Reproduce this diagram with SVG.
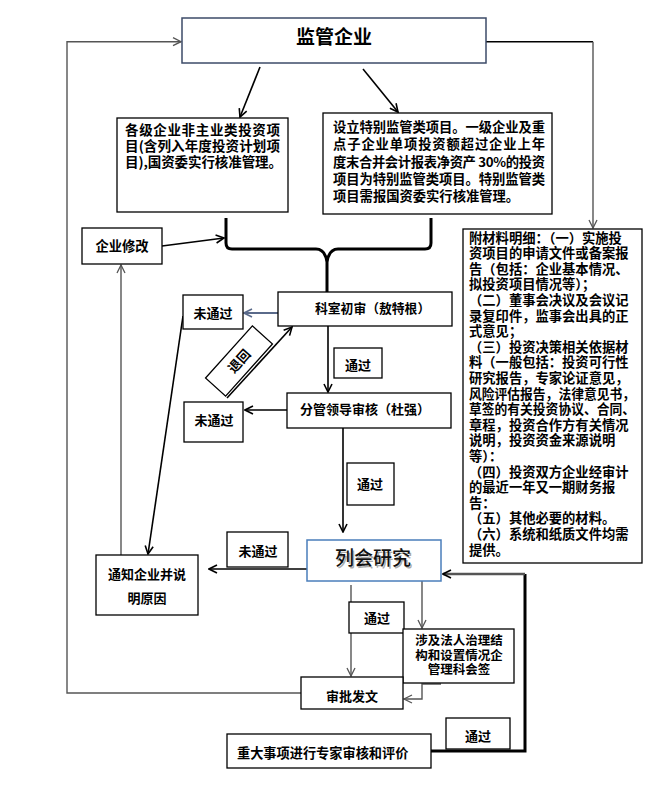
<svg xmlns="http://www.w3.org/2000/svg" width="657" height="801" viewBox="0 0 657 801">
<defs>
<style>
.box{fill:#fff;stroke:#000;stroke-width:1.3}
.t{font-family:"Noto Sans CJK SC","Noto Sans CJK TC",sans-serif;font-weight:bold;fill:#000}
.c{text-anchor:middle}
.ln{fill:none;stroke:#000;stroke-width:1.6}
.gr{fill:none;stroke:#555;stroke-width:1.4}
</style>
<marker id="ak" viewBox="0 0 10 10" refX="9" refY="5" markerWidth="10" markerHeight="10" markerUnits="userSpaceOnUse" orient="auto"><path d="M1,1 L9,5 L1,9" fill="none" stroke="#000" stroke-width="1.6"/></marker>
<marker id="ag" viewBox="0 0 10 10" refX="9" refY="5" markerWidth="10" markerHeight="10" markerUnits="userSpaceOnUse" orient="auto"><path d="M1,1 L9,5 L1,9" fill="none" stroke="#555" stroke-width="1.3"/></marker>
<marker id="ab" viewBox="0 0 10 10" refX="9" refY="5" markerWidth="10" markerHeight="10" markerUnits="userSpaceOnUse" orient="auto"><path d="M1,1 L9,5 L1,9" fill="none" stroke="#5a6a8a" stroke-width="1.6"/></marker>
</defs>
<rect width="657" height="801" fill="#fff"/>
<g id="connectors">
<path class="gr" d="M301,693 L67,693 L67,41.7 L181,41.7" stroke="#333" marker-end="url(#ag)"/>
<path class="ln" d="M486,41.7 L593,41.7" stroke-width="1.3"/>
<path class="gr" d="M593,41.7 L593,228" marker-end="url(#ag)"/>
<path class="ln" d="M260,67 L240,117" marker-end="url(#ak)"/>
<path class="ln" d="M363,69 L398,112" marker-end="url(#ak)"/>
<path d="M226,218 L226,243 Q226,249 232,249 L316,249 Q325,249 327,262 Q329,249 338,249 L425,249 Q431,249 431,243 L431,218 M327,258 L327,292" fill="none" stroke="#000" stroke-width="3"/>
<path class="ln" d="M162,246 L224,238" marker-end="url(#ak)"/>
<path d="M278,313 L244,313" fill="none" stroke="#5a6a8a" stroke-width="2" marker-end="url(#ab)"/>
<path class="ln" d="M328,326 L328,392" stroke-width="2" marker-end="url(#ak)"/>
<path class="ln" d="M287,410 L245,410" stroke-width="2" marker-end="url(#ak)"/>
<path class="ln" d="M227,398 L292,327" stroke-width="2" marker-end="url(#ak)"/>
<path class="ln" d="M183,316 L148,554" stroke-width="2" marker-end="url(#ak)"/>
<path class="gr" d="M121,555 L121,265" marker-end="url(#ag)"/>
<path class="ln" d="M343,428 L343,532" stroke-width="2" marker-end="url(#ak)"/>
<path class="ln" d="M307,569 L209,569" stroke-width="2.5" marker-end="url(#ak)"/>
<path class="gr" d="M351,585 L351,676" stroke-width="1.2" marker-end="url(#ag)"/>
<path class="gr" d="M422,579 L422,628" stroke-width="1.1" marker-end="url(#ag)"/>
<path class="gr" d="M441,684 L422,684 L422,699 L404,699" stroke-width="1.1" marker-end="url(#ag)"/>
<path d="M431,751 L525,751 L525,574" fill="none" stroke="#000" stroke-width="3"/>
<path d="M525,574 L443,574" fill="none" stroke="#555" stroke-width="2.5" marker-end="url(#ak)"/>
</g>
<g id="n-jianguan"><rect x="182" y="18" width="304" height="45" fill="#fff" stroke="#3d4b68" stroke-width="1.5"/><text x="334" y="44" class="t c" style="font-size:19px">监管企业</text></g>
<g id="n-left"><rect class="box" x="117" y="118" width="171" height="94"/>
<text class="t" x="125" y="135" style="font-size:13.5px" textLength="155" lengthAdjust="spacing">各级企业非主业类投资项</text>
<text class="t" x="125" y="151" style="font-size:13.5px" textLength="155" lengthAdjust="spacing">目(含列入年度投资计划项</text>
<text class="t" x="125" y="167" style="font-size:13.5px" textLength="157" lengthAdjust="spacing">目),国资委实行核准管理。</text></g>
<g id="n-right"><rect class="box" x="323" y="113" width="229" height="101"/>
<text class="t" x="333" y="131.5" style="font-size:13.3px" textLength="212" lengthAdjust="spacing">设立特别监管类项目。一级企业及重</text>
<text class="t" x="333" y="149" style="font-size:13.3px" textLength="212" lengthAdjust="spacing">点子企业单项投资额超过企业上年</text>
<text class="t" x="333" y="166.5" style="font-size:13.3px" textLength="212" lengthAdjust="spacing">度末合并会计报表净资产 30%的投资</text>
<text class="t" x="333" y="184" style="font-size:13.3px" textLength="212" lengthAdjust="spacing">项目为特别监管类项目。特别监管类</text>
<text class="t" x="333" y="200.5" style="font-size:13.3px">项目需报国资委实行核准管理。</text></g>
<g id="n-fucailiao"><rect class="box" x="463" y="229" width="179" height="334"/>
<text class="t" style="font-size:13.3px">
<tspan x="469" y="242.5">附材料明细：（一）实施投</tspan>
<tspan x="469" y="258.1">资项目的申请文件或备案报</tspan>
<tspan x="469" y="273.7">告（包括：企业基本情况、</tspan>
<tspan x="469" y="289.3">拟投资项目情况等）；</tspan>
<tspan x="469" y="304.9">（二）董事会决议及会议记</tspan>
<tspan x="469" y="320.5">录复印件，监事会出具的正</tspan>
<tspan x="469" y="336.1">式意见；</tspan>
<tspan x="469" y="351.7">（三）投资决策相关依据材</tspan>
<tspan x="469" y="367.3">料（一般包括：投资可行性</tspan>
<tspan x="469" y="382.9">研究报告，专家论证意见，</tspan>
</text>
<text class="t" x="469" y="398.5" style="font-size:13.3px" textLength="166" lengthAdjust="spacingAndGlyphs">风险评估报告，法律意见书，</text>
<text class="t" x="469" y="414.1" style="font-size:13.3px" textLength="166" lengthAdjust="spacingAndGlyphs">草签的有关投资协议、合同、</text>
<text class="t" style="font-size:13.3px">
<tspan x="469" y="429.7">章程，投资合作方有关情况</tspan>
<tspan x="469" y="445.3">说明，投资资金来源说明</tspan>
<tspan x="469" y="460.9">等）：</tspan>
<tspan x="469" y="476.5">（四）投资双方企业经审计</tspan>
<tspan x="469" y="492.1">的最近一年又一期财务报</tspan>
<tspan x="469" y="507.7">告：</tspan>
<tspan x="469" y="523.3">（五）其他必要的材料。</tspan>
<tspan x="469" y="538.9">（六）系统和纸质文件均需</tspan>
<tspan x="469" y="554.5">提供。</tspan>
</text></g>
<g id="n-xiugai"><rect class="box" x="82" y="228" width="80" height="36"/><text class="t c" x="122" y="251" style="font-size:13.3px">企业修改</text></g>
<g id="n-keshi"><rect class="box" x="278" y="292" width="174" height="34"/><text class="t" x="315" y="313" style="font-size:12.8px">科室初审（敖特根）</text></g>
<g id="n-weitongguo1"><rect class="box" x="183" y="295" width="60" height="34"/><text class="t c" x="213" y="318" style="font-size:13px">未通过</text></g>
<g id="n-tuihui"><g transform="translate(239,361) rotate(-48)"><rect class="box" x="-35" y="-13.5" width="70" height="27"/><text class="t c" x="0" y="5" style="font-size:13px">退回</text></g></g>
<g id="n-tongguo1"><rect class="box" x="334" y="348" width="48" height="30"/><text class="t c" x="358" y="370" style="font-size:13px">通过</text></g>
<g id="n-fenguan"><rect class="box" x="287" y="393" width="164" height="35"/><text class="t" x="300" y="414" style="font-size:13px">分管领导审核（杜强）</text></g>
<g id="n-weitongguo2"><rect class="box" x="184" y="402" width="59" height="40"/><text class="t c" x="214" y="425" style="font-size:13px">未通过</text></g>
<g id="n-tongguo2"><rect class="box" x="347" y="463" width="47" height="42"/><text class="t c" x="370" y="489" style="font-size:13px">通过</text></g>
<g id="n-tongzhi"><rect class="box" x="96" y="555" width="102" height="60"/><text class="t c" x="147" y="579" style="font-size:13px">通知企业并说</text><text class="t c" x="147" y="603" style="font-size:13px">明原因</text></g>
<g id="n-weitongguo3"><rect class="box" x="227" y="532" width="61" height="35"/><text class="t c" x="258" y="556" style="font-size:13px">未通过</text></g>
<g id="n-liehui"><rect x="307" y="540" width="134" height="41" fill="#fff" stroke="#4a7ebb" stroke-width="1.5"/><text x="374.5" y="566.5" class="c" font-family="Noto Sans CJK SC, sans-serif" font-size="19" fill="#aaa">列会研究</text><text x="373" y="565" class="c" font-family="Noto Sans CJK SC, sans-serif" font-weight="500" font-size="19" fill="#111">列会研究</text></g>
<g id="n-tongguo3"><rect class="box" x="349" y="602" width="55" height="31"/><text class="t c" x="377" y="623" style="font-size:13px">通过</text></g>
<g id="n-sheji"><rect class="box" x="403" y="629" width="111" height="54"/><text class="t c" style="font-size:12.5px" fill="#1a1a40"><tspan x="459" y="645">涉及法人治理结</tspan><tspan x="459" y="660">构和设置情况企</tspan><tspan x="459" y="674">管理科会签</tspan></text></g>
<g id="n-shenpi"><rect class="box" x="301" y="677" width="102" height="32"/><text class="t c" x="352" y="701" style="font-size:13px">审批发文</text></g>
<g id="n-zhongda"><rect class="box" x="227" y="734" width="204" height="34"/><text class="t" x="237" y="757.5" style="font-size:13.2px">重大事项进行专家审核和评价</text></g>
<g id="n-tongguo4"><rect class="box" x="446" y="718" width="64" height="31"/><text class="t c" x="478" y="741" style="font-size:13px">通过</text></g>
</svg>
